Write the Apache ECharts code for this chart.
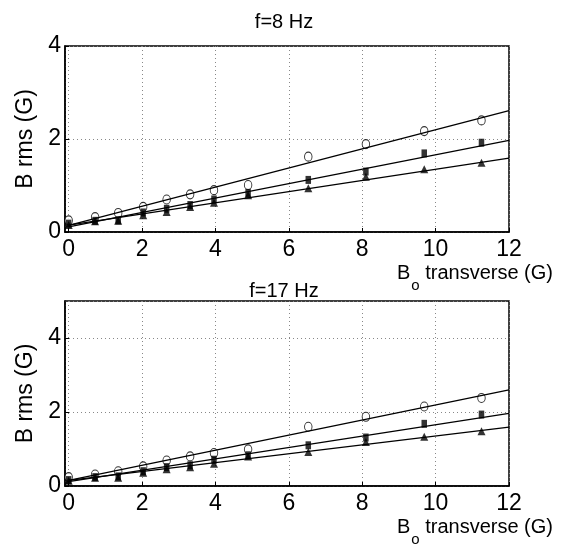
<!DOCTYPE html>
<html>
<head>
<meta charset="utf-8">
<script src="https://cdn.jsdelivr.net/npm/echarts@6/dist/echarts.min.js"></script>
<style>html,body{margin:0;padding:0;background:#fff;}#c{width:568px;height:548px;}</style>
</head>
<body>
<div id="c"></div>
<script>
// Shared x values (B_o transverse, G)
const xVals = [0, 0.72, 1.35, 2.03, 2.67, 3.31, 3.96, 4.89, 6.53, 8.10, 9.69, 11.25];
// f = 8 Hz
const circ8 = [0.25, 0.32, 0.41, 0.54, 0.70, 0.81, 0.90, 1.01, 1.62, 1.89, 2.17, 2.40];
const sq8   = [0.18, 0.24, 0.25, 0.42, 0.50, 0.58, 0.70, 0.84, 1.12, 1.30, 1.69, 1.92];
const tri8  = [0.15, 0.23, 0.24, 0.36, 0.43, 0.54, 0.63, 0.79, 0.94, 1.19, 1.35, 1.49];
// f = 17 Hz
const circ17 = [0.24, 0.31, 0.40, 0.53, 0.69, 0.80, 0.89, 0.99, 1.60, 1.87, 2.15, 2.38];
const sq17   = [0.16, 0.24, 0.26, 0.40, 0.51, 0.56, 0.71, 0.83, 1.10, 1.31, 1.68, 1.93];
const tri17  = [0.14, 0.22, 0.22, 0.36, 0.45, 0.51, 0.60, 0.80, 0.92, 1.19, 1.33, 1.48];
// Fit lines: values at x = 0 and x = 12
const fitX = [0, 12];
const fitCirc8 = [0.14, 2.61], fitSq8 = [0.11, 1.97], fitTri8 = [0.15, 1.59];
const fitCirc17 = [0.15, 2.60], fitSq17 = [0.12, 1.96], fitTri17 = [0.15, 1.59];
const titles = ['f=8 Hz', 'f=17 Hz'];
const yMax = [4, 5];

const FONT = 'Liberation Sans, Arial, Helvetica, sans-serif';
const pair = (xs, ys) => xs.map((x, i) => [x, ys[i]]);

function xAxis(gi) {
  return {
    type: 'value', gridIndex: gi, min: -0.1, max: 12, splitNumber: 6,
    axisLine: { show: true, onZero: false, lineStyle: { color: '#000', width: 1.5 } },
    axisTick: { show: true, inside: true, length: 4, lineStyle: { color: '#000' } },
    axisLabel: { showMinLabel: false, color: '#000', fontSize: 23, fontFamily: FONT, margin: 6 },
    splitLine: { show: true, lineStyle: { color: '#888', type: [1, 3], width: 1 } },
    name: '{b|B}{s|o}{b| transverse (G)}',
    nameLocation: 'end', nameGap: 44,
    nameTextStyle: {
      align: 'right', verticalAlign: 'top', padding: [22, 0, 0, 0],
      rich: {
        b: { fontSize: 20, fontFamily: FONT, color: '#000', lineHeight: 21 },
        s: { fontSize: 15, fontFamily: FONT, color: '#000', padding: [24, 0, 0, 1] }
      }
    }
  };
}
function yAxis(gi) {
  return {
    type: 'value', gridIndex: gi, min: 0, max: yMax[gi], interval: 2,
    axisLine: { show: true, onZero: false, lineStyle: { color: '#000', width: 1.5 } },
    axisTick: { show: true, inside: true, length: 4, lineStyle: { color: '#000' } },
    axisLabel: { showMaxLabel: gi === 0, color: '#000', fontSize: 23, fontFamily: FONT, margin: 4 },
    splitLine: { show: true, lineStyle: { color: '#888', type: [1, 3], width: 1 } },
    name: 'B rms (G)', nameLocation: 'middle', nameGap: 21,
    nameTextStyle: { fontSize: 23, fontFamily: FONT, color: '#000' }
  };
}
function scat(gi, ys, symbol, size, filled) {
  return {
    type: 'scatter', xAxisIndex: gi, yAxisIndex: gi, data: pair(xVals, ys),
    symbol: symbol, symbolSize: size, z: 3,
    itemStyle: filled ? { color: '#000' } : { color: '#fff', borderColor: '#000', borderWidth: 1 }
  };
}
function fit(gi, ys) {
  return {
    type: 'line', xAxisIndex: gi, yAxisIndex: gi, data: pair(fitX, ys),
    showSymbol: false, symbol: 'none', z: 4,
    lineStyle: { color: '#000', width: 1.3 }
  };
}

const chart = echarts.init(document.getElementById('c'));
chart.setOption({
  animation: false,
  backgroundColor: '#fff',
  title: [
    { text: titles[0], left: 'center', top: 7, textStyle: { fontSize: 20, fontWeight: 'normal', color: '#000', fontFamily: FONT } },
    { text: titles[1], left: 'center', top: 276, textStyle: { fontSize: 20, fontWeight: 'normal', color: '#000', fontFamily: FONT } }
  ],
  grid: [
    { left: 65, right: 59, top: 46, height: 186, show: true, borderColor: '#000', borderWidth: 1.5 },
    { left: 65, right: 59, top: 301, height: 185, show: true, borderColor: '#000', borderWidth: 1.5 }
  ],
  xAxis: [xAxis(0), xAxis(1)],
  yAxis: [yAxis(0), yAxis(1)],
  series: [
    scat(0, circ8, 'circle', [7.5, 9], false),
    scat(0, sq8, 'rect', [5.5, 8], true),
    scat(0, tri8, 'triangle', [8, 8], true),
    fit(0, fitCirc8), fit(0, fitSq8), fit(0, fitTri8),
    scat(1, circ17, 'circle', [7.5, 9], false),
    scat(1, sq17, 'rect', [5.5, 8], true),
    scat(1, tri17, 'triangle', [8, 8], true),
    fit(1, fitCirc17), fit(1, fitSq17), fit(1, fitTri17)
  ]
});
</script>
</body>
</html>
